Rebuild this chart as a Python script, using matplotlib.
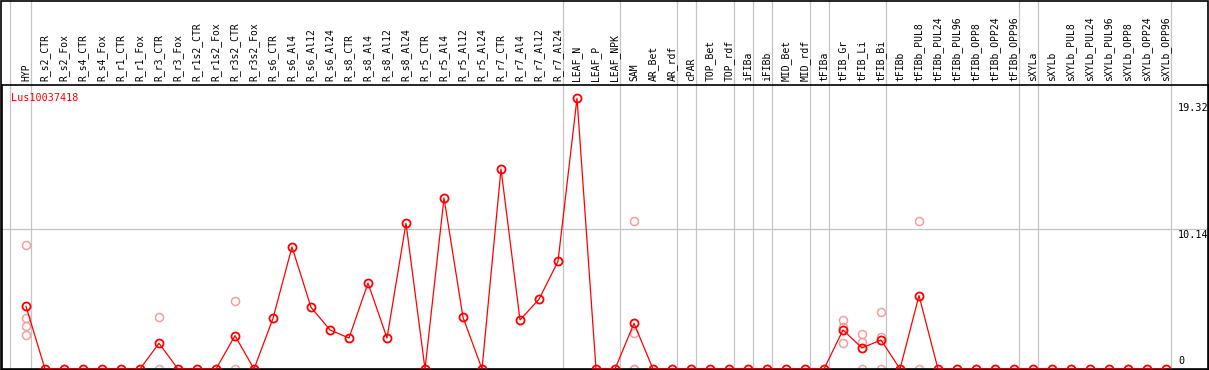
import numpy as np
import matplotlib
matplotlib.use("Agg")
import matplotlib.pyplot as plt
from matplotlib.patches import Rectangle

# sample names (columns)
samples = ["HYP", "R_s2_CTR", "R_s2_Fox", "R_s4_CTR", "R_s4_Fox", "R_r1_CTR", "R_r1_Fox",
           "R_r3_CTR", "R_r3_Fox", "R_r1s2_CTR", "R_r1s2_Fox", "R_r3s2_CTR", "R_r3s2_Fox",
           "R_s6_CTR", "R_s6_Al4", "R_s6_Al12", "R_s6_Al24", "R_s8_CTR", "R_s8_Al4",
           "R_s8_Al12", "R_s8_Al24", "R_r5_CTR", "R_r5_Al4", "R_r5_Al12", "R_r5_Al24",
           "R_r7_CTR", "R_r7_Al4", "R_r7_Al12", "R_r7_Al24", "LEAF_N", "LEAF_P", "LEAF_NPK",
           "SAM", "AR_Bet", "AR_rdf", "cPAR", "TOP_Bet", "TOP_rdf", "iFIBa", "iFIBb",
           "MID_Bet", "MID_rdf", "tFIBa", "tFIB_Gr", "tFIB_Li", "tFIB_Bi", "tFIBb",
           "tFIBb_PUL8", "tFIBb_PUL24", "tFIBb_PUL96", "tFIBb_OPP8", "tFIBb_OPP24",
           "tFIBb_OPP96", "sXYLa", "sXYLb", "sXYLb_PUL8", "sXYLb_PUL24", "sXYLb_PUL96",
           "sXYLb_OPP8", "sXYLb_OPP24", "sXYLb_OPP96"]

# mean expression per sample
means = [4.53, 0, 0, 0, 0, 0, 0, 1.86, 0, 0, 0, 2.41, 0,
         3.66, 8.82, 4.46, 2.82, 2.24, 6.21, 2.24, 10.53,
         0, 12.36, 3.74, 0, 14.45, 3.54, 5.04, 7.78,
         19.56, 0, 0,
         3.30, 0, 0, 0, 0, 0, 0, 0, 0, 0, 0,
         2.82, 1.52, 2.10, 0, 5.30, 0, 0, 0, 0, 0,
         0, 0, 0, 0, 0, 0, 0, 0]

# replicate values (sample index, value)
rep_idx = [0, 0, 0, 0, 7, 7, 11, 11, 32, 32, 32, 32,
           43, 43, 43, 44, 44, 44, 45, 45, 45, 47, 47]
rep_val = [8.94, 3.66, 3.09, 2.44, 3.74, 0, 4.89, 0, 10.67, 2.58, 0, 0,
           3.52, 3.06, 1.86, 2.53, 1.93, 0, 4.10, 2.29, 0, 10.67, 0]

# last sample of each group -> separator line
group_ends = [0, 28, 31, 34, 35, 37, 38, 39, 41, 42, 45, 52, 53, 60]

gene = "Lus10037418"
ytick_vals = [19.32, 10.14, 0]
ytick_labels = ["19.32", "10.14", "0"]

W, H = 1209, 370
fig = plt.figure(figsize=(W / 100, H / 100), dpi=100)
# plot area in pixels: x 1.5..1208.5, y 85..369 (from top)
ax = fig.add_axes([1.5 / W, 1 / H, 1207 / W, 284 / H])
ax.set_xlim((1.5 - 26) / 19, (1208.5 - 26) / 19)
ax.set_ylim(0, 284 / 13.84)
ax.set_xticks([])
ax.set_yticks([])
for s in ax.spines.values():
    s.set_color("black")
    s.set_linewidth(1.2)

mono = "DejaVu Sans Mono"
grid_c = "#c4c4c4"
top_frac = 369 / 284  # reach the top of the image

# vertical separators through header
seps = [(10 - 26) / 19] + [k + 0.24 for k in group_ends]
for sx in seps:
    ax.axvline(sx, 0, top_frac, color=grid_c, lw=0.9, clip_on=False, zorder=1)
ax.axhline(10.14, color=grid_c, lw=0.9, zorder=1)

x = np.arange(len(samples))
ax.plot(rep_idx, rep_val, ls="none", marker="o", ms=5.8, mfc="none",
        mec="#f0a0a0", mew=1.1, zorder=2, clip_on=False)
ax.plot(x, means, color="red", lw=0.9, marker="o", ms=5.8, mfc="none",
        mec="red", mew=1.3, zorder=3, clip_on=False)

# sample labels in header
for i, name in enumerate(samples):
    ax.annotate(name, xy=(i, 1), xycoords=("data", "axes fraction"),
                xytext=(0, 4), textcoords="offset pixels", rotation=90,
                ha="center", va="bottom", fontsize=7, family=mono,
                annotation_clip=False)

ax.text(9 / 1207, 1 - 8 / 284, gene, transform=ax.transAxes, color="red",
        fontsize=7.3, family=mono, ha="left", va="top")

# value labels on right
for v, lab in zip(ytick_vals, ytick_labels):
    off = 3 if v == 0 else -1
    va = "bottom" if v == 0 else "top"
    ax.annotate(lab, xy=((1178 - 26) / 19, v), xytext=(0, off),
                textcoords="offset pixels", ha="left", va=va,
                fontsize=7.3, family=mono)

# outer border of whole image
fig.patches.append(Rectangle((0.5 / W, 0.5 / H), 1 - 1.5 / W, 1 - 1 / H,
                             transform=fig.transFigure, fill=False,
                             ec="black", lw=1.2))

fig.savefig("out.png", dpi=100)
